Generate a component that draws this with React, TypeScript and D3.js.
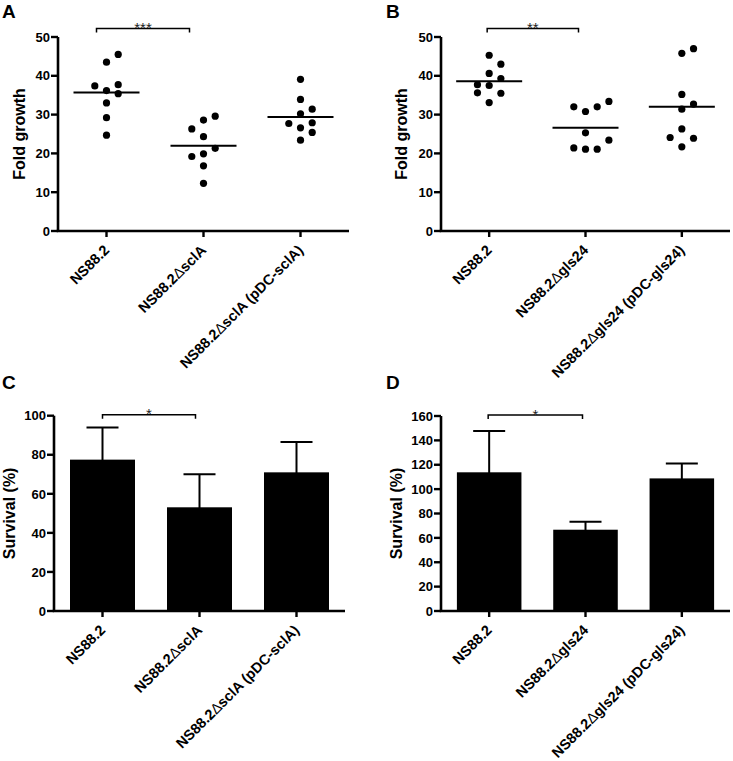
import React from "react";
import * as d3 from "d3";

const FONT = "Arial, 'Liberation Sans', Helvetica, sans-serif";

// ---------- Data ----------
const strainsSclA = ["NS88.2", "NS88.2\u0394sclA", "NS88.2\u0394sclA (pDC-sclA)"];
const strainsGls24 = ["NS88.2", "NS88.2\u0394gls24", "NS88.2\u0394gls24 (pDC-gls24)"];

// Panel A: fold growth (individual points)
const foldA_wt = [45.5, 43.5, 37.4, 37.7, 36.2, 35.4, 33.0, 29.2, 24.7];
const foldA_mut = [29.6, 28.6, 26.3, 24.3, 21.3, 19.2, 19.9, 16.8, 12.3];
const foldA_comp = [39.1, 33.9, 31.4, 30.2, 27.7, 27.9, 26.6, 25.4, 23.4];
const slotA_wt = [1, 0, -1, 1, 0, 1, 0, 0, 0];
const slotA_mut = [1, 0, -1, 0, 1, -1, 0, 0, 0];
const slotA_comp = [0, 0, 1, 0, -1, 1, 0, 1, 0];
const medianA = [35.7, 22.0, 29.4];

// Panel B: fold growth (individual points)
const foldB_wt = [45.3, 43.0, 40.6, 39.3, 37.7, 37.5, 35.6, 35.5, 33.1];
const foldB_mut = [32.0, 30.8, 32.0, 33.4, 25.3, 23.4, 21.4, 21.1, 21.1];
const foldB_comp = [47.0, 45.8, 35.2, 32.7, 31.4, 26.3, 24.1, 23.9, 21.7];
const slotB_wt = [0, 1, 0, 1, -1, 0, -1, 1, 0];
const slotB_mut = [-1, 0, 1, 2, 0, 2, -1, 0, 1];
const slotB_comp = [1, 0, 0, 1, 0, 0, -1, 1, 0];
const medianB = [38.6, 26.6, 32.0];

// Panel C / D: survival (mean + SD)
const survivalC = [77.5, 53.1, 71.0];
const errorC = [16.4, 16.9, 15.5];
const survivalD = [113.8, 66.7, 108.8];
const errorD = [33.9, 6.6, 12.3];

const ticksFold = [0, 10, 20, 30, 40, 50];
const ticksC = [0, 20, 40, 60, 80, 100];
const ticksD = [0, 20, 40, 60, 80, 100, 120, 140, 160];

// ---------- Helpers ----------
function Label({ text }: { text: string }) {
  const parts = text.split("\u0394");
  if (parts.length === 1) return <>{text}</>;
  return (
    <>
      {parts[0]}
      <tspan fontWeight="normal">{"\u0394"}</tspan>
      {parts[1]}
    </>
  );
}

type AxisProps = {
  x: d3.ScaleBand<string>;
  y: d3.ScaleLinear<number, number>;
  cats: string[];
  ticks: number[];
  yLabel: string;
  yLabelX: number;
  letter: string;
  letterX: number;
  letterY: number;
};

function Axes({ x, y, cats, ticks, yLabel, yLabelX, letter, letterX, letterY }: AxisProps) {
  const [r0, r1] = x.range();
  const y0 = y(0);
  const yTop = y(ticks[ticks.length - 1]);
  const yMid = (y0 + yTop) / 2;
  const bw = x.bandwidth();
  return (
    <g>
      <text x={letterX} y={letterY} fontFamily={FONT} fontWeight="bold" fontSize={19}>
        {letter}
      </text>
      <line x1={r0} x2={r0} y1={y0} y2={yTop} stroke="#000" strokeWidth={2.6} />
      <line x1={r0 - 1.3} x2={r1} y1={y0} y2={y0} stroke="#000" strokeWidth={2.6} />
      {ticks.map((t) => (
        <g key={t}>
          <line x1={r0 - 7} x2={r0} y1={y(t)} y2={y(t)} stroke="#000" strokeWidth={2.4} />
          <text
            x={r0 - 8}
            y={y(t)}
            dy="0.36em"
            textAnchor="end"
            fontFamily={FONT}
            fontWeight="bold"
            fontSize={13}
          >
            {t}
          </text>
        </g>
      ))}
      {cats.map((c) => {
        const cx = (x(c) as number) + bw / 2;
        return (
          <g key={c}>
            <line x1={cx} x2={cx} y1={y0} y2={y0 + 6} stroke="#000" strokeWidth={2.4} />
            <text
              transform={`translate(${cx},${y0 + 16.5}) rotate(-45)`}
              dy="0.35em"
              textAnchor="end"
              fontFamily={FONT}
              fontWeight="bold"
              fontSize={14.5}
            >
              <Label text={c} />
            </text>
          </g>
        );
      })}
      <text
        transform={`translate(${yLabelX},${yMid}) rotate(-90)`}
        textAnchor="middle"
        fontFamily={FONT}
        fontWeight="bold"
        fontSize={16}
      >
        {yLabel}
      </text>
    </g>
  );
}

function Bracket({
  xa,
  xb,
  yb,
  stars,
}: {
  xa: number;
  xb: number;
  yb: number;
  stars: string;
}) {
  return (
    <g>
      <path
        d={`M${xa},${yb + 4}V${yb}H${xb}V${yb + 4}`}
        fill="none"
        stroke="#000"
        strokeWidth={1.5}
      />
      <text
        x={(xa + xb) / 2}
        y={yb + 4.5}
        textAnchor="middle"
        fontFamily={FONT}
        fontSize={15}
        fill="#222"
      >
        {stars}
      </text>
    </g>
  );
}

type ScatterProps = {
  cats: string[];
  groups: number[][];
  slots: number[][];
  medians: number[];
  range: [number, number];
  yRange: [number, number];
  letter: string;
  letterX: number;
  yLabelX: number;
  stars: string;
  bracketOff: [number, number];
};

function ScatterPanel({ cats, groups, slots, medians, range, yRange, letter, letterX, yLabelX, stars, bracketOff }: ScatterProps) {
  const x = d3.scaleBand<string>().domain(cats).range(range).paddingInner(0.33).paddingOuter(0.165);
  const y = d3.scaleLinear().domain([0, 50]).range(yRange);
  const bw = x.bandwidth();
  const slotW = 11.7;
  const c0 = (x(cats[0]) as number) + bw / 2;
  const c1 = (x(cats[1]) as number) + bw / 2;
  return (
    <g>
      <Axes
        x={x}
        y={y}
        cats={cats}
        ticks={ticksFold}
        yLabel="Fold growth"
        yLabelX={yLabelX}
        letter={letter}
        letterX={letterX}
        letterY={17.5}
      />
      {cats.map((c, i) => {
        const cx = (x(c) as number) + bw / 2;
        return (
          <g key={c}>
            {groups[i].map((v, j) => (
              <circle key={j} cx={cx + slots[i][j] * slotW} cy={y(v)} r={3.6} fill="#000" />
            ))}
            <line x1={cx - 33} x2={cx + 33} y1={y(medians[i])} y2={y(medians[i])} stroke="#000" strokeWidth={2} />
          </g>
        );
      })}
      <Bracket xa={c0 + bracketOff[0]} xb={c1 + bracketOff[1]} yb={y(50) - 8.5} stars={stars} />
    </g>
  );
}

type BarProps = {
  cats: string[];
  means: number[];
  errs: number[];
  max: number;
  ticks: number[];
  range: [number, number];
  yRange: [number, number];
  letter: string;
  letterX: number;
  yLabelX: number;
  bracketOff: [number, number];
};

function BarPanel({ cats, means, errs, max, ticks, range, yRange, letter, letterX, yLabelX, bracketOff }: BarProps) {
  const x = d3.scaleBand<string>().domain(cats).range(range).paddingInner(0.33).paddingOuter(0.165);
  const y = d3.scaleLinear().domain([0, max]).range(yRange);
  const bw = x.bandwidth();
  const c0 = (x(cats[0]) as number) + bw / 2;
  const c1 = (x(cats[1]) as number) + bw / 2;
  return (
    <g>
      {cats.map((c, i) => {
        const bx = x(c) as number;
        const cx = bx + bw / 2;
        return (
          <g key={c}>
            <line x1={cx} x2={cx} y1={y(means[i]) + 2} y2={y(means[i] + errs[i])} stroke="#000" strokeWidth={2} />
            <line x1={cx - 16} x2={cx + 16} y1={y(means[i] + errs[i])} y2={y(means[i] + errs[i])} stroke="#000" strokeWidth={2} />
            <rect x={bx} y={y(means[i])} width={bw} height={y(0) - y(means[i])} fill="#000" />
          </g>
        );
      })}
      <Axes
        x={x}
        y={y}
        cats={cats}
        ticks={ticks}
        yLabel="Survival (%)"
        yLabelX={yLabelX}
        letter={letter}
        letterX={letterX}
        letterY={389}
      />
      <Bracket xa={c0 + bracketOff[0]} xb={c1 + bracketOff[1]} yb={y(max) - 1} stars="*" />
    </g>
  );
}

export default function App() {
  return (
    <svg
      width={733}
      height={761}
      viewBox="0 0 733 761"
      style={{ position: "absolute", left: 0, top: 0, background: "#fff" }}
    >
      <rect width={733} height={761} fill="#fff" />
      <ScatterPanel
        cats={strainsSclA}
        groups={[foldA_wt, foldA_mut, foldA_comp]}
        slots={[slotA_wt, slotA_mut, slotA_comp]}
        medians={medianA}
        range={[58, 349]}
        yRange={[231, 37]}
        letter="A"
        letterX={2}
        yLabelX={25}
        stars="***"
        bracketOff={[-10, -14]}
      />
      <ScatterPanel
        cats={strainsGls24}
        groups={[foldB_wt, foldB_mut, foldB_comp]}
        slots={[slotB_wt, slotB_mut, slotB_comp]}
        medians={medianB}
        range={[441, 730]}
        yRange={[231, 37]}
        letter="B"
        letterX={386}
        yLabelX={407}
        stars="**"
        bracketOff={[-2, -7]}
      />
      <BarPanel
        cats={strainsSclA}
        means={survivalC}
        errs={errorC}
        max={100}
        ticks={ticksC}
        range={[54, 345]}
        yRange={[611, 415.7]}
        letter="C"
        letterX={2}
        yLabelX={15}
        bracketOff={[0, -4]}
      />
      <BarPanel
        cats={strainsGls24}
        means={survivalD}
        errs={errorD}
        max={160}
        ticks={ticksD}
        range={[441, 730]}
        yRange={[611, 416]}
        letter="D"
        letterX={386}
        yLabelX={402}
        bracketOff={[-1, -3]}
      />
    </svg>
  );
}
